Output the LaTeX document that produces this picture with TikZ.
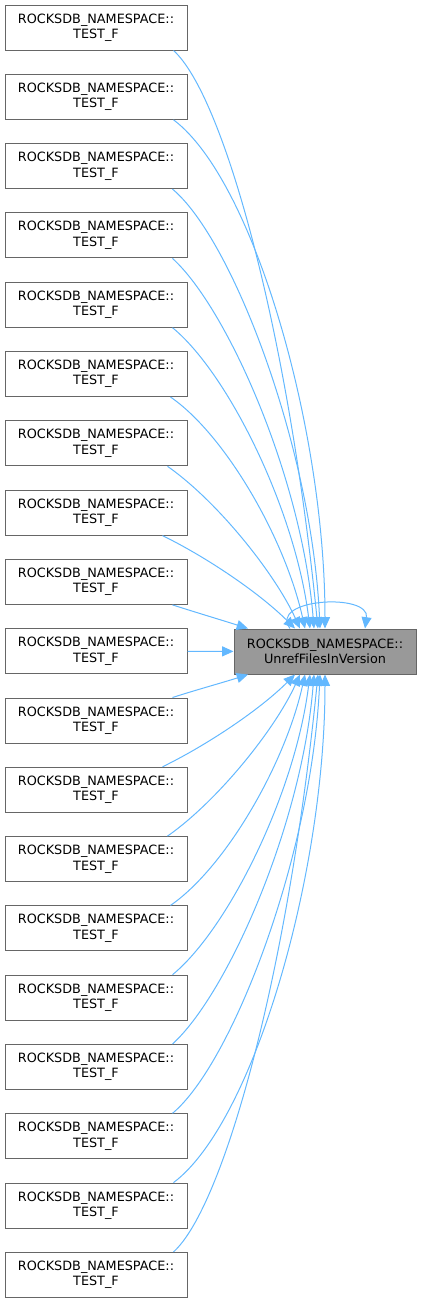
\documentclass[tikz,border=0pt]{standalone}
\usepackage{fontspec}
\setmainfont{DejaVu Sans}
\usetikzlibrary{arrows.meta,calc}

\definecolor{edgeblue}{HTML}{63B8FF}
\definecolor{boxgray}{HTML}{666666}
\definecolor{fngray}{HTML}{999999}

\tikzset{
  caller/.style={draw=boxgray, line width=0.75pt, fill=white, minimum width=136.5pt,
    minimum height=33.75pt, inner sep=0pt, align=center, font=\fontsize{9.6}{11.5}\selectfont},
  callee/.style={caller, fill=fngray},
  call/.style={->, draw=edgeblue, line width=0.75pt}
}

\begin{document}
\begin{tikzpicture}[x=0.75pt, y=-0.75pt, >={Triangle[length=8.5pt,width=7.5pt]}]
\useasboundingbox (0,0) rectangle (421,1303);

% callers on the left
\foreach \i in {1,...,19}
  \node[caller] (t\i) at (96, {27.5+69.3*(\i-1)}) {ROCKSDB\_NAMESPACE::\\TEST\_F};

% the called function
\node[callee] (fn) at (325, 651.5) {ROCKSDB\_NAMESPACE::\\UnrefFilesInVersion};

% calls from above and (mirrored) from below
\foreach \i/\sx/\ex/\ax/\ay/\bx/\by in {1/-14/-7/50/45/-30/-300, 2/-14/0/80/60/0/-200,
    3/-15/-5/60/50/-8/-180, 4/-15/-11/55/50/-12/-150, 5/-15/-15/55/45/-15/-120,
    6/-17/-20/55/38/-20/-90, 7/-20/-25/50/35/-25/-55, 8/-25/-30/45/22/-35/-35,
    9/-15/-77/25/8/-25/-8} {
  \pgfmathtruncatemacro\j{20-\i}
  \draw[call] ($(t\i.south east)+(\sx,0)$) .. controls +(\ax,\ay) and +(\bx,\by) .. ($(fn.north)+(\ex,0)$);
  \draw[call] ($(t\j.north east)+(\sx,0)$) .. controls +(\ax,{0-(\ay)}) and +(\bx,{0-(\by)}) .. ($(fn.south)+(\ex,0)$);
}
\draw[call] (t10) -- (fn);

% recursive call
\draw[call] ($(fn.north)+(-35,0)$) .. controls +(-22,-30) and +(5,-36) .. ($(fn.north)+(40,0)$);
\end{tikzpicture}
\end{document}
